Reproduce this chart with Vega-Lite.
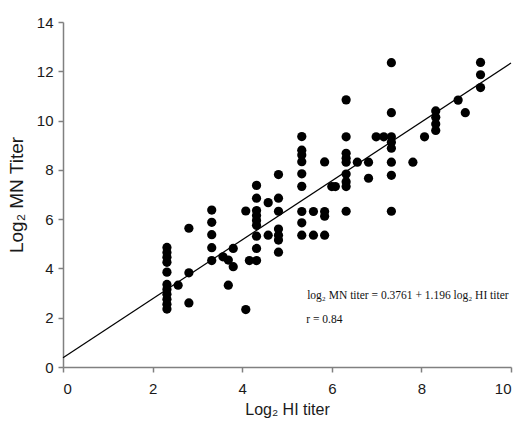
{
  "$schema": "https://vega.github.io/schema/vega-lite/v6.json",
  "width": 448,
  "height": 345,
  "autosize": {"type": "none"},
  "padding": {"left": 63, "top": 22, "right": 7, "bottom": 65},
  "background": "white",
  "config": {
    "view": {"stroke": null},
    "axis": {
      "grid": false,
      "domainColor": "#808080",
      "tickColor": "#808080",
      "domainWidth": 1.5,
      "tickWidth": 1.5,
      "tickSize": 5,
      "labelFont": "Liberation Sans",
      "titleFont": "Liberation Sans",
      "labelColor": "#1a1a1a",
      "titleColor": "#1a1a1a",
      "labelFontSize": 15,
      "titleFontSize": 16,
      "titleFontWeight": "normal"
    }
  },
  "datasets": {
    "points": [
      {"hi": 2.32, "mn": 4.85}, {"hi": 2.32, "mn": 4.65}, {"hi": 2.32, "mn": 4.45}, {"hi": 2.32, "mn": 4.25},
      {"hi": 2.32, "mn": 3.85}, {"hi": 2.32, "mn": 3.35}, {"hi": 2.32, "mn": 3.15}, {"hi": 2.32, "mn": 2.95},
      {"hi": 2.32, "mn": 2.75}, {"hi": 2.32, "mn": 2.55}, {"hi": 2.32, "mn": 2.35},
      {"hi": 2.57, "mn": 3.32},
      {"hi": 2.81, "mn": 5.63}, {"hi": 2.81, "mn": 3.82}, {"hi": 2.81, "mn": 2.6},
      {"hi": 3.32, "mn": 6.37}, {"hi": 3.32, "mn": 5.87}, {"hi": 3.32, "mn": 5.37}, {"hi": 3.32, "mn": 4.84}, {"hi": 3.32, "mn": 4.32},
      {"hi": 3.57, "mn": 4.47}, {"hi": 3.69, "mn": 4.34}, {"hi": 3.8, "mn": 4.07}, {"hi": 3.8, "mn": 4.81}, {"hi": 3.69, "mn": 3.32},
      {"hi": 4.08, "mn": 6.33}, {"hi": 4.08, "mn": 2.33}, {"hi": 4.16, "mn": 4.32},
      {"hi": 4.32, "mn": 7.37}, {"hi": 4.32, "mn": 6.85}, {"hi": 4.32, "mn": 6.35}, {"hi": 4.32, "mn": 6.15}, {"hi": 4.32, "mn": 5.95},
      {"hi": 4.32, "mn": 5.75}, {"hi": 4.32, "mn": 5.31}, {"hi": 4.32, "mn": 4.81}, {"hi": 4.32, "mn": 4.32},
      {"hi": 4.58, "mn": 6.67}, {"hi": 4.58, "mn": 5.35},
      {"hi": 4.81, "mn": 7.81}, {"hi": 4.81, "mn": 6.85}, {"hi": 4.81, "mn": 6.32}, {"hi": 4.81, "mn": 5.6}, {"hi": 4.81, "mn": 5.35},
      {"hi": 4.81, "mn": 5.15}, {"hi": 4.81, "mn": 4.66},
      {"hi": 5.33, "mn": 9.35}, {"hi": 5.33, "mn": 8.8}, {"hi": 5.33, "mn": 8.6}, {"hi": 5.33, "mn": 8.33}, {"hi": 5.33, "mn": 7.84},
      {"hi": 5.33, "mn": 7.33}, {"hi": 5.33, "mn": 6.31}, {"hi": 5.33, "mn": 5.85}, {"hi": 5.33, "mn": 5.35},
      {"hi": 5.59, "mn": 6.31}, {"hi": 5.59, "mn": 5.35},
      {"hi": 5.84, "mn": 8.32}, {"hi": 5.84, "mn": 6.31}, {"hi": 5.84, "mn": 6.12}, {"hi": 5.84, "mn": 5.35},
      {"hi": 6.0, "mn": 7.32}, {"hi": 6.08, "mn": 7.32},
      {"hi": 6.32, "mn": 10.84}, {"hi": 6.32, "mn": 9.34}, {"hi": 6.32, "mn": 8.67}, {"hi": 6.32, "mn": 8.47}, {"hi": 6.32, "mn": 8.31},
      {"hi": 6.32, "mn": 7.83}, {"hi": 6.32, "mn": 7.52}, {"hi": 6.32, "mn": 7.32}, {"hi": 6.32, "mn": 6.32},
      {"hi": 6.57, "mn": 8.31},
      {"hi": 6.82, "mn": 8.31}, {"hi": 6.82, "mn": 7.66},
      {"hi": 6.99, "mn": 9.34}, {"hi": 7.16, "mn": 9.34},
      {"hi": 7.33, "mn": 12.35}, {"hi": 7.33, "mn": 10.32}, {"hi": 7.33, "mn": 9.34}, {"hi": 7.33, "mn": 9.12}, {"hi": 7.33, "mn": 8.88},
      {"hi": 7.33, "mn": 8.31}, {"hi": 7.33, "mn": 7.78}, {"hi": 7.33, "mn": 6.32},
      {"hi": 7.81, "mn": 8.31},
      {"hi": 8.07, "mn": 9.34},
      {"hi": 8.32, "mn": 10.39}, {"hi": 8.32, "mn": 10.13}, {"hi": 8.32, "mn": 9.86}, {"hi": 8.32, "mn": 9.6},
      {"hi": 8.82, "mn": 10.83},
      {"hi": 8.98, "mn": 10.32},
      {"hi": 9.32, "mn": 12.36}, {"hi": 9.32, "mn": 11.86}, {"hi": 9.32, "mn": 11.34}
    ],
    "fit": [
      {"hi": 0, "mn": 0.3761},
      {"hi": 10, "mn": 12.3361}
    ],
    "notes": [
      {"hi": 5.45, "mn": 2.89, "label": "log₂ MN titer = 0.3761 + 1.196 log₂ HI titer"},
      {"hi": 5.43, "mn": 1.9, "label": "r = 0.84"}
    ]
  },
  "layer": [
    {
      "data": {"name": "points"},
      "mark": {"type": "point", "filled": true, "shape": "circle", "color": "#000000", "opacity": 1, "size": 85},
      "encoding": {
        "x": {
          "field": "hi", "type": "quantitative",
          "scale": {"domain": [0, 10], "nice": false},
          "axis": {"values": [0, 2, 4, 6, 8, 10], "title": "Log₂ HI titer", "labelPadding": 9, "titlePadding": 5}
        },
        "y": {
          "field": "mn", "type": "quantitative",
          "scale": {"domain": [0, 14], "nice": false},
          "axis": {"values": [0, 2, 4, 6, 8, 10, 12, 14], "title": "Log₂ MN Titer", "titleFontSize": 19, "labelPadding": 5, "titlePadding": 10}
        }
      }
    },
    {
      "data": {"name": "fit"},
      "mark": {"type": "line", "color": "#000000", "strokeWidth": 1.2},
      "encoding": {
        "x": {"field": "hi", "type": "quantitative"},
        "y": {"field": "mn", "type": "quantitative"}
      }
    },
    {
      "data": {"name": "notes"},
      "mark": {"type": "text", "align": "left", "baseline": "middle", "font": "Liberation Serif", "fontSize": 11.5, "color": "#111111"},
      "encoding": {
        "x": {"field": "hi", "type": "quantitative"},
        "y": {"field": "mn", "type": "quantitative"},
        "text": {"field": "label"}
      }
    }
  ]
}
